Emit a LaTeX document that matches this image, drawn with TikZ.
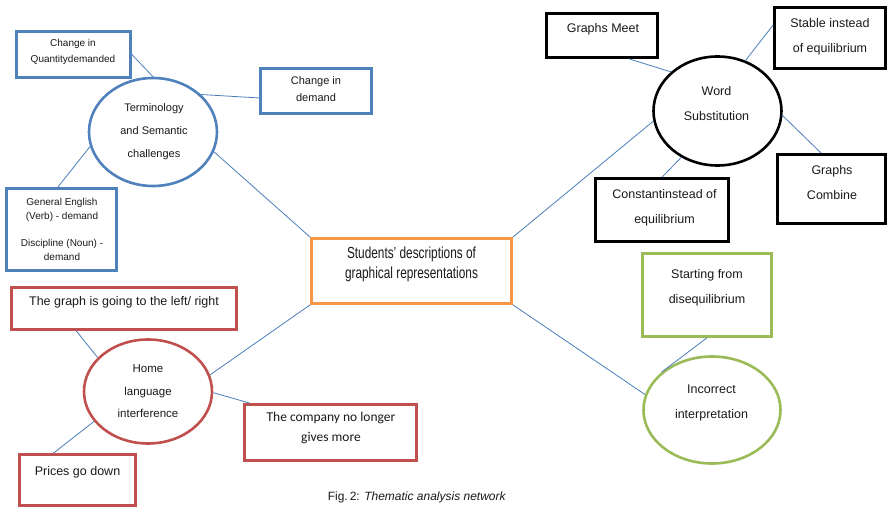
\documentclass[tikz,border=0pt]{standalone}
\usepackage{fontspec}
\setmainfont{Liberation Sans}
\newfontfamily\calib{Carlito}
\newfontfamily\narrowsans[FakeStretch=0.74]{Liberation Sans}
\usetikzlibrary{shapes.geometric}
\definecolor{cblue}{HTML}{4F81BD}
\definecolor{cred}{HTML}{C0504D}
\definecolor{cgreen}{HTML}{9BBB59}
\definecolor{corange}{HTML}{F79646}
\definecolor{cline}{HTML}{4A7EBB}
\definecolor{ctext}{HTML}{1A1A1A}
\tikzset{
  bx/.style={draw, rectangle, line width=2.6pt, inner sep=0pt, fill=white},
  el/.style={draw, ellipse, line width=2.6pt, inner sep=0pt, fill=white},
  con/.style={draw=cline, line width=0.8pt},
  txt/.style={align=center, inner sep=0pt, text=ctext},
  fs/.style 2 args={font=\fontsize{#1}{#2}\selectfont},
}
\begin{document}
\begin{tikzpicture}[x=1pt,y=-1pt]
\useasboundingbox[fill=white] (0,0) rectangle (887,508);

% ---- blue group
\node[bx, draw=cblue, minimum width=114pt, minimum height=46pt] (qd) at (73.5,54.5) {};
\node[bx, draw=cblue, minimum width=111pt, minimum height=45pt] (cd) at (316,91) {};
\node[bx, draw=cblue, minimum width=110pt, minimum height=82pt] (ge) at (61.5,229.5) {};
\node[el, draw=cblue, minimum width=128pt, minimum height=108pt] (ter) at (153,132) {};

% ---- centre
\node[bx, draw=corange, minimum width=200pt, minimum height=65pt] (cen) at (411.5,271) {};

% ---- black group
\node[bx, draw=black, minimum width=111pt, minimum height=44pt] (gm) at (602,35.5) {};
\node[bx, draw=black, minimum width=111pt, minimum height=61pt] (st) at (830,38) {};
\node[el, draw=black, minimum width=128pt, minimum height=109pt] (ws) at (717.5,111) {};
\node[bx, draw=black, minimum width=108pt, minimum height=69pt] (gc) at (831.5,189) {};
\node[bx, draw=black, minimum width=133pt, minimum height=63pt] (co) at (662,210) {};

% ---- red group
\node[bx, draw=cred, minimum width=225pt, minimum height=42pt] (gl) at (124,308.5) {};
\node[el, draw=cred, minimum width=128pt, minimum height=104pt] (hl) at (148,391.5) {};
\node[bx, draw=cred, minimum width=172pt, minimum height=56pt] (cm) at (330.5,432.5) {};
\node[bx, draw=cred, minimum width=116pt, minimum height=51pt] (pg) at (77.5,480) {};

% ---- green group
\node[bx, draw=cgreen, minimum width=129pt, minimum height=83pt] (sd) at (707,295) {};
\node[el, draw=cgreen, minimum width=137pt, minimum height=107pt] (ii) at (712,410) {};

% ---- connectors
\draw[con] (qd.east) -- (ter.north);
\draw[con] (ter.38) -- (cd.187);
\draw[con] (ter.193) -- (ge.95);
\draw[con] (ter.342) -- (cen.north west);
\draw[con] (gm.319) -- (ws.140);
\draw[con] (ws.61) -- (st.167);
\draw[con] (ws.356) -- (gc.106);
\draw[con] (ws.232) -- (co.north);
\draw[con] (ws.189) -- (cen.north east);
\draw[con] (gl.205) -- (hl.146);
\draw[con] (hl.359) -- (cm.160);
\draw[con] (hl.209) -- (pg.132);
\draw[con] (hl.15) -- (cen.south west);
\draw[con] (cen.south east) -- (ii.167);
\draw[con] (sd.south) -- (ii.143);

% ---- texts
\node[txt, fs={10}{16}] (qdT) at (73,52) {Change in\\Quantitydemanded};
\node[txt, fs={11}{17}] (cdT) at (316,89.5) {Change in\\demand};
\node[txt, fs={11}{23}] (terT) at (154,132) {Terminology\\and Semantic\\challenges};
\node[txt, fs={10}{14}] (geT) at (62,229.5) {General English\\(Verb) - demand\\[13pt]Discipline (Noun) -\\demand};
\node[txt, font=\narrowsans\fontsize{16}{20}\selectfont] (cenT) at (411.5,264) {Students’ descriptions of\\graphical representations};

\node[txt, fs={12.5}{25}] (gmT) at (603,29) {Graphs Meet};
\node[txt, fs={12.5}{25}] (stT) at (830,36.5) {Stable instead\\of equilibrium};
\node[txt, fs={12.5}{25}] (wsT) at (716.5,103.5) {Word\\Substitution};
\node[txt, fs={12.5}{25}] (gcT) at (832,182.5) {Graphs\\Combine};
\node[txt, fs={12.5}{25}] (coT) at (664.5,208) {Constantinstead of\\equilibrium};

\node[txt, fs={12.5}{25}] (glT) at (124,302.5) {The graph is going to the left/ right};
\node[txt, fs={11.5}{22.5}] (hlT) at (148,391.5) {Home\\language\\interference};
\node[txt, font=\calib\fontsize{13.5}{20}\selectfont] (cmT) at (331,428) {The company no longer\\gives more};
\node[txt, fs={12.5}{25}] (pgT) at (77.5,472.5) {Prices go down};

\node[txt, fs={12.5}{25}] (sdT) at (707,287.5) {Starting from\\disequilibrium};
\node[txt, fs={12.5}{25}] (iiT) at (711.5,402.5) {Incorrect\\interpretation};

% ---- caption
\node[txt, fs={12}{14}] (cap) at (417,497) {Fig.\,2: \textit{Thematic analysis network}};
\end{tikzpicture}
\end{document}
